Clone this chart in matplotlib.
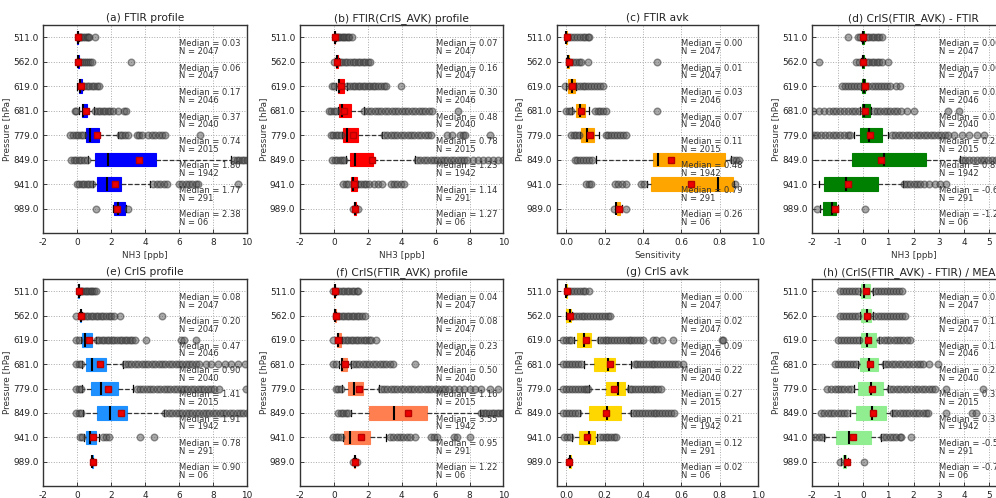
import matplotlib
matplotlib.use('Agg')
import matplotlib.pyplot as plt

levels = ['511.0', '562.0', '619.0', '681.0', '779.0', '849.0', '941.0', '989.0']
n_labels = ['2047', '2047', '2046', '2040', '2015', '1942', '291', '06']

# ---------------- (a) FTIR profile ----------------
a_q1 = [0.00, 0.02, 0.12, 0.28, 0.51, 1.04, 1.14, 2.18]
a_med = [0.03, 0.06, 0.17, 0.37, 0.74, 1.80, 1.77, 2.38]
a_q3 = [0.05, 0.10, 0.28, 0.59, 1.28, 4.65, 2.60, 2.80]
a_lo = [-0.02, -0.02, 0.00, 0.10, 0.45, 0.62, 0.95, 2.10]
a_hi = [0.10, 0.13, 0.35, 1.00, 2.40, 9.10, 4.31, 2.90]
a_mean = [0.05, 0.07, 0.25, 0.50, 1.18, 3.66, 2.22, 2.34]
a_fl = [
    [0.15, 0.25, 0.35, 0.45, 0.55, 0.65, 0.72, 1.05],
    [0.18, 0.3, 0.42, 0.54, 0.66, 0.78, 0.9, 3.15],
    [0.4, 0.55, 0.7, 0.85, 1.0, 1.15, 1.3],
    [-0.15, -0.05, 1.05, 1.2, 1.35, 1.5, 1.65, 1.8, 1.95, 2.1, 2.4, 2.75, 2.85],
    [-0.4, -0.25, -0.1, 0.05, 0.2, 0.35, 2.5, 2.65, 2.8, 3.0, 3.5, 3.65, 3.8,
     4.2, 4.4, 4.6, 4.8, 5.0, 5.2, 7.25],
    [-0.35, -0.2, -0.05, 0.1, 0.25, 0.4, 0.55, 9.25, 9.4, 9.55, 9.7, 9.85, 10.0, 10.2],
    [-0.03, 0.12, 0.27, 0.42, 0.57, 0.72, 0.86, 4.5, 4.7, 4.9, 5.1, 5.3, 6.0, 6.2,
     6.4, 6.6, 6.8, 7.0, 7.15, 9.5],
    [1.12, 3.0],
]

# ---------------- (b) FTIR(CrIS_AVK) profile ----------------
b_q1 = [0.05, 0.10, 0.24, 0.29, 0.55, 0.94, 0.98, 1.20]
b_med = [0.07, 0.16, 0.30, 0.48, 0.78, 1.23, 1.14, 1.27]
b_q3 = [0.09, 0.25, 0.59, 0.98, 1.40, 2.32, 1.37, 1.33]
b_lo = [0.03, 0.05, 0.10, 0.24, 0.48, 0.70, 0.98, 1.16]
b_hi = [0.10, 0.30, 0.75, 1.76, 2.84, 4.80, 1.40, 1.36]
b_mean = [0.08, 0.18, 0.40, 0.62, 1.10, 2.25, 1.20, 1.27]
b_fl = [
    [0.12, 0.22, 0.32, 0.42, 0.52, 0.62, 0.72, 0.82, 0.92, 1.05],
    [0.0, 0.35, 0.5, 0.65, 0.8, 0.95, 1.1, 1.25, 1.4, 1.55, 1.7, 1.85, 2.0, 2.15],
    [-0.1, 0.0, 0.8, 0.95, 1.1, 1.25, 1.4, 1.55, 1.7, 1.85, 2.0, 2.15, 2.3, 2.45,
     2.6, 2.75, 2.95, 3.1, 3.95],
    [-0.3, -0.15, 0.0, 0.15, 1.8, 2.0, 2.2, 2.4, 2.6, 2.8, 3.0, 3.2, 3.4, 3.6, 3.8,
     4.0, 4.2, 4.4, 4.6, 4.8, 5.0, 5.2, 5.4, 5.6, 5.8, 7.35],
    [-0.2, -0.05, 0.1, 0.25, 0.4, 2.95, 3.15, 3.35, 3.55, 3.75, 3.95, 4.15, 4.35,
     4.55, 4.75, 4.95, 5.15, 5.35, 5.55, 5.7, 6.7, 6.95, 7.45, 7.6, 7.75, 9.2],
    [-0.1, 0.05, 0.2, 0.35, 0.5, 0.62, 4.9, 5.1, 5.3, 5.5, 5.7, 5.9, 6.1, 6.3, 6.5,
     6.7, 6.9, 7.1, 7.3, 7.5, 7.7, 7.85, 8.2, 8.5, 8.8, 9.1, 9.4, 9.7, 10.0],
    [0.55, 0.7, 0.85, 1.45, 1.6, 1.75, 1.9, 2.1, 2.35, 2.6, 2.85, 3.35, 3.55, 3.75,
     3.95, 4.15],
    [1.12, 1.4],
]

# ---------------- (c) FTIR avk ----------------
c_q1 = [0.000, 0.005, 0.009, 0.052, 0.075, 0.452, 0.443, 0.262]
c_med = [0.00, 0.01, 0.03, 0.07, 0.11, 0.48, 0.79, 0.26]
c_q3 = [0.004, 0.012, 0.043, 0.100, 0.143, 0.830, 0.870, 0.282]
c_lo = [-0.002, 0.000, 0.000, 0.030, 0.070, 0.157, 0.420, 0.260]
c_hi = [0.006, 0.015, 0.050, 0.120, 0.170, 0.860, 0.875, 0.290]
c_mean = [0.005, 0.012, 0.030, 0.075, 0.122, 0.548, 0.652, 0.275]
c_fl = [
    [0.01, 0.025, 0.04, 0.055, 0.07, 0.085, 0.1, 0.115, 0.12],
    [0.02, 0.035, 0.05, 0.065, 0.078, 0.113, 0.473],
    [-0.005, 0.055, 0.07, 0.085, 0.1, 0.115, 0.13, 0.145, 0.16, 0.175, 0.19],
    [0.0, 0.013, 0.026, 0.148, 0.163, 0.178, 0.193, 0.209, 0.473],
    [0.023, 0.038, 0.053, 0.068, 0.205, 0.22, 0.235, 0.25, 0.265, 0.28, 0.295, 0.31],
    [0.043, 0.058, 0.073, 0.088, 0.103, 0.118, 0.133, 0.87, 0.885, 0.9],
    [0.104, 0.118, 0.13, 0.252, 0.27, 0.29, 0.313, 0.39, 0.405, 0.88],
    [0.25, 0.31],
]

# ---------------- (d) CrIS(FTIR_AVK) - FTIR ----------------
d_q1 = [-0.03, -0.03, -0.03, -0.05, -0.12, -0.44, -1.54, -1.59]
d_med = [0.00, 0.00, 0.05, 0.05, 0.25, 0.85, -0.65, -1.21]
d_q3 = [0.03, 0.03, 0.10, 0.28, 0.74, 2.50, 0.61, -1.06]
d_lo = [-0.08, -0.08, -0.08, -0.10, -0.35, -2.50, -1.75, -1.70]
d_hi = [0.08, 0.08, 0.12, 0.32, 1.00, 3.84, 1.59, -1.00]
d_mean = [0.01, 0.01, 0.08, 0.10, 0.27, 0.72, -0.58, -1.10]
d_fl = [
    [-0.57, -0.2, -0.12, 0.15, 0.25, 0.35, 0.45, 0.55, 0.65, 0.75],
    [-1.72, -0.26, -0.15, 0.15, 0.25, 0.35, 0.45, 0.55, 0.65, 0.75, 1.0],
    [-0.82, -0.7, -0.58, -0.46, -0.34, -0.22, -0.12, 0.22, 0.34, 0.46, 0.58, 0.7,
     0.82, 0.94, 1.06, 1.3, 1.45],
    [-1.96, -1.75, -1.55, -1.35, -1.2, -1.05, -0.9, -0.75, -0.6, -0.45, -0.3, -0.15,
     0.43, 0.56, 0.69, 0.82, 0.95, 1.08, 1.21, 1.34, 1.5, 1.75, 2.0, 3.37, 3.8],
    [-2.1, -1.95, -1.8, -1.65, -1.5, -1.35, -1.2, -1.05, -0.9, -0.75, -0.6, -0.51,
     1.14, 1.28, 1.42, 1.56, 1.7, 1.84, 1.98, 2.12, 2.26, 2.4, 2.54, 2.68, 2.82,
     2.96, 3.1, 3.24, 3.38, 3.6, 3.9, 4.2, 4.5, 4.8],
    [3.9, 4.05, 4.2, 4.35, 4.5, 4.65, 4.8, 4.95, 5.1, 5.25, 5.4, 5.55, 5.7, 5.85, 6.0, 6.2],
    [1.62, 1.75, 1.88, 2.0, 2.13, 2.26, 2.4, 2.6, 2.85, 3.05, 3.3],
    [-1.83, 0.08],
]

# ---------------- (e) CrIS profile ----------------
e_q1 = [0.05, 0.15, 0.30, 0.51, 0.79, 1.18, 0.51, 0.86]
e_med = [0.08, 0.20, 0.47, 0.90, 1.41, 1.91, 0.78, 0.90]
e_q3 = [0.11, 0.24, 0.85, 1.69, 2.42, 2.95, 1.10, 0.94]
e_lo = [0.03, 0.10, 0.20, 0.30, 0.30, 0.35, 0.40, 0.84]
e_hi = [0.14, 0.30, 1.10, 2.70, 3.30, 5.10, 1.30, 0.96]
e_mean = [0.09, 0.22, 0.70, 1.33, 1.79, 2.56, 0.92, 0.92]
e_fl = [
    [0.2, 0.3, 0.4, 0.5, 0.6, 0.7, 0.8, 0.9, 1.0, 1.12],
    [-0.05, 0.35, 0.5, 0.65, 0.8, 0.95, 1.1, 1.25, 1.4, 1.55, 1.7, 1.85, 2.0, 2.15,
     2.5, 4.98],
    [-0.05, 0.1, 1.15, 1.3, 1.45, 1.6, 1.75, 1.9, 2.05, 2.2, 2.35, 2.5, 2.65, 2.8,
     2.95, 3.1, 3.25, 3.4, 4.05, 6.1, 6.3, 7.0],
    [-0.05, 0.1, 0.2, 2.8, 3.0, 3.2, 3.4, 3.6, 3.8, 4.0, 4.2, 4.4, 4.6, 4.8, 5.0,
     5.2, 5.4, 5.6, 5.8, 6.0, 6.2, 6.4, 6.6, 6.8, 7.0, 7.2, 7.6, 7.9, 8.3, 8.7,
     9.1, 9.5, 9.9],
    [-0.05, 0.1, 0.2, 3.5, 3.7, 3.9, 4.1, 4.3, 4.5, 4.7, 4.9, 5.1, 5.3, 5.5, 5.7,
     5.9, 6.1, 6.3, 6.5, 6.7, 6.9, 7.1, 7.3, 7.5, 7.7, 7.9, 8.1, 8.35, 9.95],
    [-0.05, 0.1, 0.2, 5.2, 5.4, 5.6, 5.8, 6.0, 6.2, 6.4, 6.6, 6.8, 7.0, 7.2, 7.4,
     7.6, 7.8, 8.0, 8.2, 8.4, 8.6, 8.8, 9.0, 9.2, 9.4, 9.6, 9.8, 10.0],
    [0.15, 0.3, 1.55, 1.7, 1.85, 3.7, 4.55],
    [],
]

# ---------------- (f) CrIS(FTIR_AVK) profile ----------------
f_q1 = [0.02, 0.05, 0.16, 0.43, 0.82, 2.06, 0.59, 1.18]
f_med = [0.04, 0.08, 0.23, 0.50, 1.16, 3.55, 0.95, 1.22]
f_q3 = [0.06, 0.10, 0.40, 0.78, 1.72, 5.49, 2.12, 1.26]
f_lo = [0.00, 0.02, 0.05, 0.30, 0.50, 1.00, 0.55, 1.15]
f_hi = [0.10, 0.15, 0.50, 1.00, 2.65, 8.60, 3.10, 1.30]
f_mean = [0.05, 0.10, 0.25, 0.65, 1.50, 4.35, 1.60, 1.22]
f_fl = [
    [-0.05, 0.15, 0.3, 0.45, 0.6, 0.75, 0.9, 1.05, 1.2, 1.35, 1.45],
    [0.15, 0.3, 0.45, 0.6, 0.75, 0.9, 1.05, 1.2, 1.35, 1.5, 1.65, 1.85],
    [-0.05, 0.55, 0.7, 0.85, 1.0, 1.15, 1.3, 1.45, 1.6, 1.75, 1.9, 2.05, 2.2, 2.5],
    [-0.05, 0.1, 1.1, 1.3, 1.5, 1.7, 1.9, 2.1, 2.3, 2.5, 2.7, 2.9, 3.1, 3.3, 3.5, 4.8],
    [0.1, 0.25, 0.4, 2.75, 2.95, 3.15, 3.35, 3.55, 3.75, 3.95, 4.15, 4.35, 4.55,
     4.75, 4.95, 5.15, 5.35, 5.55, 5.75, 5.95, 6.15, 6.35, 6.55, 6.8, 7.1, 7.4,
     7.7, 8.0, 8.3, 8.7, 9.2, 9.7],
    [0.25, 0.4, 0.55, 0.7, 0.85, 8.7, 8.85, 9.0, 9.15, 9.3, 9.45, 9.6, 9.75, 9.9, 10.0],
    [-0.05, 0.1, 0.25, 0.4, 3.3, 3.5, 3.7, 3.9, 4.1, 4.3, 4.5, 4.8, 5.7, 5.9, 6.1,
     7.1, 7.25, 8.0],
    [1.1, 1.35],
]

# ---------------- (g) CrIS avk ----------------
g_q1 = [0.000, 0.000, 0.057, 0.144, 0.205, 0.118, 0.066, 0.012]
g_med = [0.00, 0.02, 0.09, 0.22, 0.27, 0.21, 0.12, 0.02]
g_q3 = [0.004, 0.026, 0.130, 0.252, 0.304, 0.287, 0.148, 0.024]
g_lo = [-0.002, -0.002, 0.040, 0.090, 0.120, 0.070, 0.030, 0.010]
g_hi = [0.006, 0.030, 0.165, 0.340, 0.320, 0.340, 0.160, 0.027]
g_mean = [0.005, 0.018, 0.105, 0.230, 0.250, 0.205, 0.110, 0.015]
g_fl = [
    [0.01, 0.025, 0.04, 0.055, 0.07, 0.085, 0.1, 0.12],
    [0.035, 0.05, 0.065, 0.08, 0.095, 0.11, 0.125, 0.14, 0.155, 0.17, 0.185, 0.2,
     0.215, 0.226],
    [-0.017, -0.002, 0.013, 0.026, 0.174, 0.19, 0.205, 0.22, 0.235, 0.25, 0.265,
     0.28, 0.295, 0.31, 0.325, 0.34, 0.355, 0.37, 0.385, 0.4, 0.45, 0.47, 0.5,
     0.556, 0.81, 0.82],
    [-0.017, 0.0, 0.015, 0.03, 0.045, 0.06, 0.078, 0.356, 0.37, 0.385, 0.4, 0.415,
     0.43, 0.445, 0.46, 0.475, 0.49, 0.505, 0.52, 0.535, 0.55, 0.565, 0.583, 0.61],
    [-0.017, 0.0, 0.015, 0.03, 0.045, 0.06, 0.075, 0.09, 0.105, 0.113, 0.33, 0.345,
     0.36, 0.375, 0.39, 0.405, 0.42, 0.435, 0.45, 0.465, 0.48, 0.496],
    [-0.017, 0.0, 0.015, 0.03, 0.045, 0.06, 0.35, 0.365, 0.38, 0.395, 0.41, 0.425,
     0.44, 0.455, 0.47, 0.485, 0.5, 0.515, 0.53, 0.545, 0.56],
    [-0.01, 0.005, 0.017, 0.175, 0.19, 0.205, 0.22, 0.235, 0.25, 0.26],
    [],
]

# ---------------- (h) (CrIS(FTIR_AVK) - FTIR) / MEAN ----------------
h_q1 = [-0.07, -0.07, -0.07, -0.13, -0.20, -0.29, -1.08, -0.79]
h_med = [0.05, 0.15, 0.18, 0.25, 0.32, 0.35, -0.55, -0.72]
h_q3 = [0.29, 0.33, 0.50, 0.60, 0.80, 0.90, 0.33, -0.66]
h_lo = [-0.10, -0.10, -0.12, -0.18, -0.35, -0.50, -1.52, -0.85]
h_hi = [0.40, 0.40, 0.62, 0.80, 1.00, 1.15, 0.73, -0.60]
h_mean = [0.12, 0.15, 0.22, 0.27, 0.37, 0.38, -0.40, -0.62]
h_fl = [
    [-0.9, -0.78, -0.66, -0.54, -0.42, -0.3, -0.18, 0.46, 0.58, 0.7, 0.82, 0.94,
     1.06, 1.18, 1.3, 1.42, 1.55],
    [-0.9, -0.78, -0.66, -0.54, -0.42, -0.3, -0.18, 0.45, 0.58, 0.7, 0.82, 0.94,
     1.06, 1.18, 1.3, 1.42, 1.55, 1.65],
    [-1.0, -0.88, -0.76, -0.64, -0.52, -0.4, -0.28, -0.16, 0.69, 0.82, 0.95, 1.08,
     1.21, 1.34, 1.47, 1.6, 1.73, 1.86],
    [-1.12, -1.0, -0.88, -0.76, -0.64, -0.52, -0.4, -0.28, 0.86, 1.0, 1.14, 1.28,
     1.42, 1.56, 1.7, 1.84, 1.98, 2.12, 2.25, 2.38, 2.6, 2.95],
    [-1.43, -1.25, -1.12, -0.99, -0.86, -0.73, -0.6, -0.47, 1.06, 1.2, 1.34, 1.48,
     1.62, 1.76, 1.9, 2.04, 2.18, 2.32, 2.46, 2.6, 2.72, 2.84, 3.3, 4.76],
    [-1.65, -1.52, -1.39, -1.26, -1.13, -1.0, -0.87, -0.74, -0.61, 1.19, 1.32, 1.45,
     1.58, 1.71, 1.84, 1.97, 2.1, 2.23, 2.36, 2.5, 2.58, 3.3, 4.33, 4.46],
    [-2.2, -2.05, -1.9, -1.75, -1.6, 0.8, 0.93, 1.06, 1.19, 1.32, 1.45, 1.52, 1.92],
    [-0.92, 0.05],
]

panels = [
    ('(a) FTIR profile', '#0000ff', a_q1, a_med, a_q3, a_lo, a_hi, a_mean, a_fl),
    ('(b) FTIR(CrIS_AVK) profile', '#ff0000', b_q1, b_med, b_q3, b_lo, b_hi, b_mean, b_fl),
    ('(c) FTIR avk', '#ffa500', c_q1, c_med, c_q3, c_lo, c_hi, c_mean, c_fl),
    ('(d) CrIS(FTIR_AVK) - FTIR', '#008000', d_q1, d_med, d_q3, d_lo, d_hi, d_mean, d_fl),
    ('(e) CrIS profile', '#1e90ff', e_q1, e_med, e_q3, e_lo, e_hi, e_mean, e_fl),
    ('(f) CrIS(FTIR_AVK) profile', '#ff7f50', f_q1, f_med, f_q3, f_lo, f_hi, f_mean, f_fl),
    ('(g) CrIS avk', '#ffd700', g_q1, g_med, g_q3, g_lo, g_hi, g_mean, g_fl),
    ('(h) (CrIS(FTIR_AVK) - FTIR) / MEAN', '#90ee90', h_q1, h_med, h_q3, h_lo, h_hi, h_mean, h_fl),
]

W, H = 996.0, 498.0
fig = plt.figure(figsize=(W / 100, H / 100), dpi=100)

col_left = [43.3, 300.0, 556.7, 812.3]
col_width = [203.4, 203.4, 201.3, 202.4]
row_top = [25.0, 279.0]
row_height = [208.0, 207.0]

profile_style = dict(xlim=(-2, 10), xticks=list(range(-2, 11, 2)), xlabel='NH3 [ppb]', tx=6.0,
                     fmt='%d')
avk_style = dict(xlim=(-0.05, 1.0), xticks=[0.0, 0.2, 0.4, 0.6, 0.8, 1.0], xlabel='Sensitivity',
                 tx=0.6, fmt='%.1f')
diff_style = dict(xlim=(-2, 6), xticks=list(range(-2, 7)), xlabel='NH3 [ppb]', tx=3.0, fmt='%d')
styles = [profile_style, profile_style, avk_style, diff_style,
          profile_style, profile_style, avk_style, diff_style]

txt_col = '#333333'
for k, (title, color, q1, med, q3, lo, hi, mean, fl) in enumerate(panels):
    r, c = divmod(k, 4)
    l, w = col_left[c], col_width[c]
    t, h = row_top[r], row_height[r]
    ax = fig.add_axes([l / W, 1 - (t + h) / H, w / W, h / H])
    st = styles[k]
    stats = []
    for i in range(len(levels)):
        stats.append(dict(med=med[i], q1=q1[i], q3=q3[i], whislo=lo[i], whishi=hi[i],
                          mean=mean[i], fliers=fl[i]))
    kw = dict(positions=list(range(len(levels))), widths=0.55, patch_artist=True,
              showmeans=True,
              boxprops=dict(facecolor=color, edgecolor=color, linewidth=0.8),
              medianprops=dict(color='black', linewidth=1.5),
              meanprops=dict(marker='s', markerfacecolor='#ee0000', markeredgecolor='#bb0000',
                             markersize=3.8, linestyle='none'),
              whiskerprops=dict(color='#333333', linestyle='--', linewidth=0.9),
              capprops=dict(color='black', linewidth=0.9),
              flierprops=dict(marker='o', markerfacecolor='#555555', markeredgecolor='#333333',
                              alpha=0.5, markersize=4.8, linestyle='none'))
    try:
        ax.bxp(stats, orientation='horizontal', **kw)
    except TypeError:
        ax.bxp(stats, vert=False, **kw)

    ax.set_ylim(8, -0.5)
    ax.set_yticks(list(range(len(levels))))
    ax.set_yticklabels(levels)
    ax.set_xlim(*st['xlim'])
    ax.set_xticks(st['xticks'])
    ax.set_xticklabels([st['fmt'] % v for v in st['xticks']])
    ax.tick_params(labelsize=6.4, colors='#222222', direction='in', length=3, width=0.6)
    ax.grid(True, linestyle=':', color='#aaaaaa', linewidth=0.7)
    ax.set_axisbelow(True)
    for sp in ax.spines.values():
        sp.set_color('#333333')
        sp.set_linewidth(1.0)
    ax.set_title(title, fontsize=7.7, color='#222222', pad=3)
    ax.set_ylabel('Pressure [hPa]', fontsize=6.4, color='#333333', labelpad=1.5)
    ax.set_xlabel(st['xlabel'], fontsize=6.4, color='#333333', labelpad=3)
    for i in range(len(levels)):
        ax.text(st['tx'], i + 0.26, 'Median = %.2f' % med[i], fontsize=6.0, va='center',
                ha='left', color=txt_col)
        ax.text(st['tx'], i + 0.57, 'N = %s' % n_labels[i], fontsize=6.0, va='center',
                ha='left', color=txt_col)

fig.savefig('out.png', dpi=100)
